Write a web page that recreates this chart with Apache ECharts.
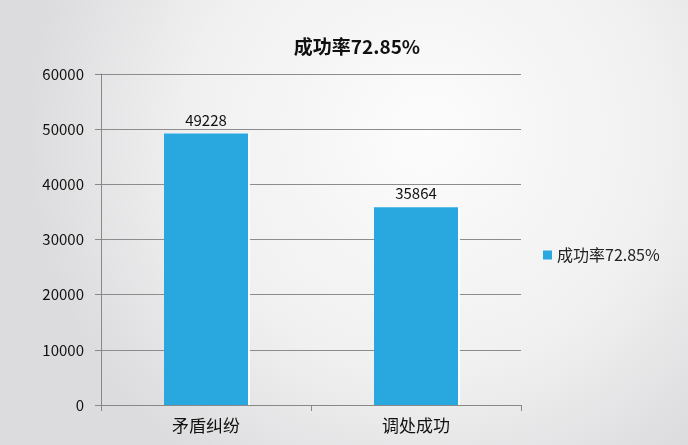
<!DOCTYPE html>
<html>
<head>
<meta charset="utf-8">
<script src="https://cdn.jsdelivr.net/npm/echarts@6/dist/echarts.min.js"></script>
<style>
  html, body { margin: 0; padding: 0; }
  #chart { width: 688px; height: 445px; }
</style>
</head>
<body>
<div id="chart"></div>
<script>
// 数据
const titleText = '成功率72.85%';
const seriesName = '成功率72.85%';
const categories = ['矛盾纠纷', '调处成功'];
const values = [49228, 35864];
const yTicks = [0, 10000, 20000, 30000, 40000, 50000, 60000];

const font = '"Noto Sans CJK SC", "Open Sans", sans-serif';
const chart = echarts.init(document.getElementById('chart'));

chart.setOption({
  backgroundColor: {
    type: 'radial', x: 0.62, y: 0.3, r: 0.9,
    colorStops: [
      { offset: 0, color: '#fcfcfc' },
      { offset: 0.6, color: '#f0f0f1' },
      { offset: 1, color: '#dcdcde' }
    ]
  },
  animation: false,
  title: {
    text: titleText,
    left: 352, textAlign: 'center',
    top: 32,
    textStyle: { fontFamily: font, fontSize: 19, fontWeight: 'bold', color: '#111' }
  },
  legend: {
    data: [seriesName],
    orient: 'vertical',
    left: 538, top: 242,
    itemWidth: 9, itemHeight: 9, icon: 'rect', itemGap: 6,
    textStyle: { fontFamily: font, fontSize: 16, color: '#222' }
  },
  grid: { left: 101, right: 167, top: 74, bottom: 40 },
  xAxis: {
    type: 'category',
    data: categories,
    axisLine: { lineStyle: { color: '#888' } },
    axisTick: { show: true, length: 6, lineStyle: { color: '#888' } },
    axisLabel: { fontFamily: font, fontSize: 17, color: '#111', margin: 12 }
  },
  yAxis: {
    type: 'value',
    min: yTicks[0], max: yTicks[yTicks.length - 1], interval: 10000,
    axisLine: { show: true, lineStyle: { color: '#888' } },
    axisTick: { show: true, length: 6, lineStyle: { color: '#888' } },
    splitLine: { lineStyle: { color: '#8c8c8c', width: 1 } },
    axisLabel: {
      fontFamily: font, fontSize: 15, color: '#111', margin: 17,
      formatter: v => String(v)
    }
  },
  series: [{
    name: seriesName,
    type: 'bar',
    data: values,
    barWidth: '40%',
    itemStyle: {
      color: '#29a8df',
      shadowColor: 'rgba(255,255,255,0.95)', shadowOffsetX: 2, shadowBlur: 0
    },
    label: {
      show: true, position: 'top', distance: 6,
      fontFamily: font, fontSize: 15, color: '#111'
    }
  }]
});
</script>
</body>
</html>
